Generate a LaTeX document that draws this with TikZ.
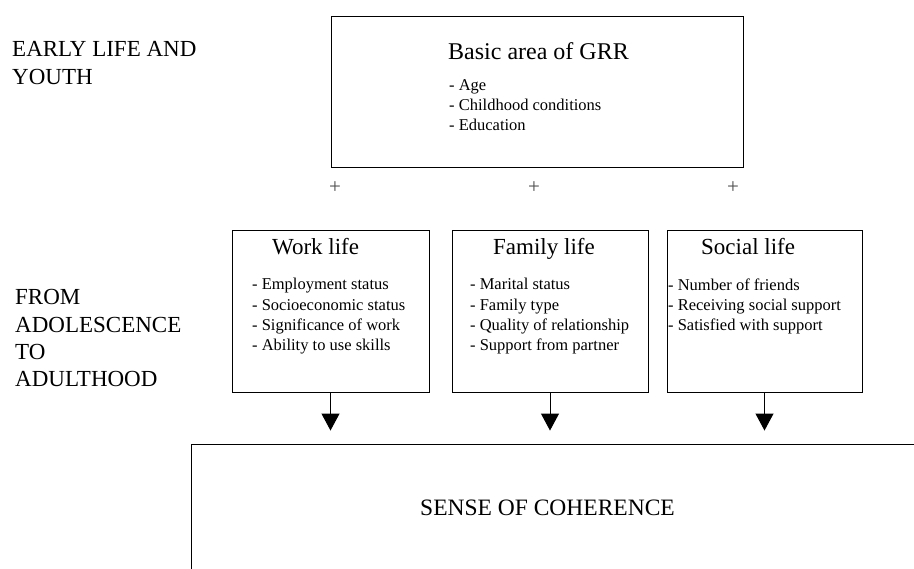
\documentclass[tikz,border=0pt]{standalone}
\usepackage{fontspec}
\setmainfont{Liberation Serif}
\usetikzlibrary{arrows.meta}
\newcommand\myfs[2]{\fontsize{#1}{#2}\selectfont}
\begin{document}
\begin{tikzpicture}[x=1pt,y=-1pt,
  boxnode/.style={draw=black,line width=0.9pt,rectangle,inner sep=0pt},
  side/.style={anchor=base west,inner sep=0pt,font=\myfs{23}{27}},
  ttl/.style={anchor=base west,inner sep=0pt,font=\myfs{23}{27}},
  itm/.style={anchor=base west,inner sep=0pt,font=\myfs{16.5}{20}},
  plus/.style={inner sep=0pt,text=black!70,font=\myfs{21}{24}},
  arr/.style={line width=1pt,-{Triangle[width=18pt,length=17pt]},shorten >=13pt}]
\useasboundingbox (0,0) rectangle (914,569);
\clip (0,0) rectangle (914,569);
% left labels
\node[side] (l1) at (12,57) {EARLY LIFE AND};
\node[side] (l2) at (12,85) {YOUTH};
\node[side] (l3) at (15,305) {FROM};
\node[side] (l4) at (15,333) {ADOLESCENCE};
\node[side] (l5) at (15,360) {TO};
\node[side] (l6) at (15,387) {ADULTHOOD};
% top box
\node[boxnode,minimum width=412pt,minimum height=151pt] (grr) at (537,91.5) {};
\node[anchor=base west,inner sep=0pt,font=\myfs{24}{28}] (grrt) at (448,60) {Basic area of GRR};
\node[itm] (g1) at (449,91) {- Age};
\node[itm] (g2) at (449,111) {- Childhood conditions};
\node[itm] (g3) at (449,131) {- Education};
% plus signs
\node[plus] (p1) at (335,188) {+};
\node[plus] (p2) at (534,188) {+};
\node[plus] (p3) at (733,188) {+};
% middle boxes
\node[boxnode,minimum width=197pt,minimum height=162pt] (work) at (330.5,311) {};
\node[boxnode,minimum width=196pt,minimum height=162pt] (fam) at (550,311) {};
\node[boxnode,minimum width=195pt,minimum height=162pt] (soc) at (764.5,311) {};
\node[ttl] (wt) at (272,255) {Work life};
\node[ttl] (ft) at (493,255) {Family life};
\node[ttl] (st) at (701,255) {Social life};
\node[itm] (w1) at (252,290) {- Employment status};
\node[itm] (w2) at (252,311) {- Socioeconomic status};
\node[itm] (w3) at (252,331) {- Significance of work};
\node[itm] (w4) at (252,351) {- Ability to use skills};
\node[itm] (f1) at (470,290) {- Marital status};
\node[itm] (f2) at (470,311) {- Family type};
\node[itm] (f3) at (470,331) {- Quality of relationship};
\node[itm] (f4) at (470,351) {- Support from partner};
\node[itm] (s1) at (668,291) {- Number of friends};
\node[itm] (s2) at (668,311) {- Receiving social support};
\node[itm] (s3) at (668,331) {- Satisfied with support};
% bottom box
\node[boxnode,minimum width=909pt,minimum height=256pt] (soc2) at (645.5,572) {};
\node[anchor=base,inner sep=0pt,font=\myfs{23.5}{27}] (sct) at (547.5,515) {SENSE OF COHERENCE};
% arrows
\draw[arr] (work.south) -- (work.south |- soc2.north);
\draw[arr] (fam.south) -- (fam.south |- soc2.north);
\draw[arr] (soc.south) -- (soc.south |- soc2.north);
\end{tikzpicture}
\end{document}
